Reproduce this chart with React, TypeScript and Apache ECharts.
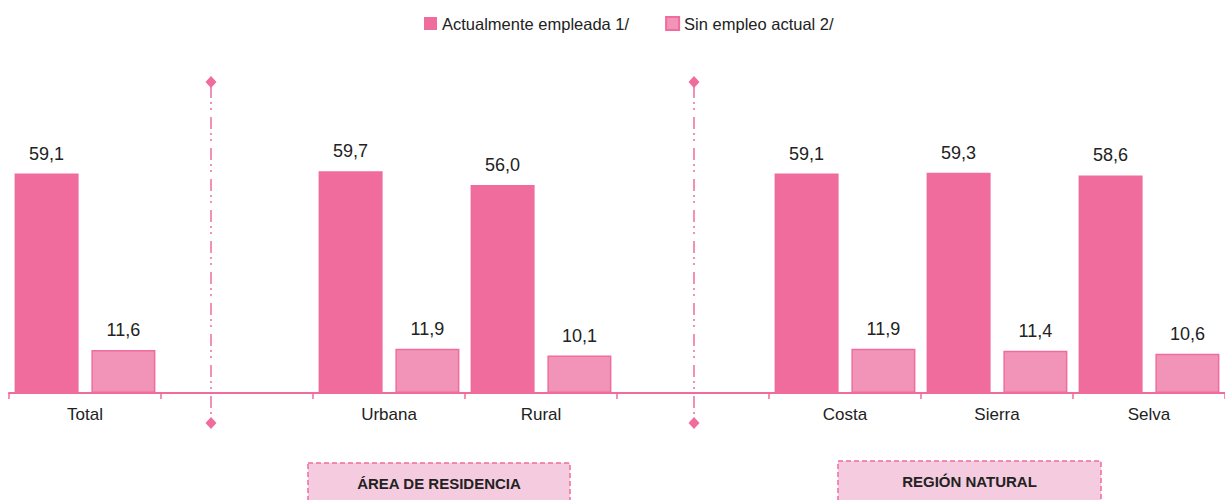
import React, { useEffect, useRef } from "react";
import * as echarts from "echarts";

const categories = ["Total", "", "Urbana", "Rural", "", "Costa", "Sierra", "Selva"];
const empleada = [59.1, null, 59.7, 56.0, null, 59.1, 59.3, 58.6];
const sinEmpleo = [11.6, null, 11.9, 10.1, null, 11.9, 11.4, 10.6];
const seriesNames = ["Actualmente empleada 1/", "Sin empleo actual 2/"];
const groupLabels = ["ÁREA DE RESIDENCIA", "REGIÓN NATURAL"];

const FONT = "'Liberation Sans Narrow', 'Arial Narrow', 'Liberation Sans', Arial, sans-serif";
const PINK = "#EF6C9D";
const PINK2 = "#F293B8";

function separator(x: number) {
  return {
    type: "group",
    children: [
      {
        type: "line",
        shape: { x1: x, y1: 86, x2: x, y2: 418 },
        style: { stroke: PINK, lineWidth: 1.5, lineDash: [12, 4, 2, 4, 2, 7] },
      },
      {
        type: "polygon",
        shape: { points: [[x, 76], [x + 5.5, 82], [x, 88], [x - 5.5, 82]] },
        style: { fill: PINK },
      },
      {
        type: "polygon",
        shape: { points: [[x, 417], [x + 5.5, 423], [x, 429], [x - 5.5, 423]] },
        style: { fill: PINK },
      },
    ],
  };
}

function groupBox(x: number, y: number, w: number, text: string) {
  return {
    type: "group",
    children: [
      {
        type: "rect",
        shape: { x, y, width: w, height: 45 },
        style: { fill: "#F5CBDF", stroke: PINK, lineWidth: 1.5, lineDash: [5, 3] },
      },
      {
        type: "text",
        x: x + w / 2,
        y: y + 20,
        style: {
          text,
          font: `bold 15px ${FONT}`,
          fill: "#222",
          align: "center",
          verticalAlign: "middle",
        },
      },
    ],
  };
}

export default function App() {
  const ref = useRef<HTMLDivElement>(null);
  useEffect(() => {
    if (!ref.current) return;
    const chart = echarts.init(ref.current, undefined, { renderer: "svg" });
    const fmt = (p: any) => (p.value == null ? "" : Number(p.value).toFixed(1).replace(".", ","));
    chart.setOption({
      animation: false,
      textStyle: { fontFamily: FONT },
      legend: {
        top: 10,
        left: 419,
        itemWidth: 13,
        itemHeight: 13,
        itemGap: 36,
        icon: "rect",
        textStyle: { fontSize: 16.5, color: "#222", fontFamily: FONT },
        data: seriesNames,
      },
      grid: { left: 9, top: 96, width: 1223, bottom: 107 },
      xAxis: {
        type: "category",
        data: categories,
        axisLine: { lineStyle: { color: PINK, width: 2 } },
        axisTick: { show: true, interval: 0, length: 6, lineStyle: { color: PINK, width: 1.5 } },
        axisLabel: { interval: 0, fontSize: 17, color: "#222", margin: 13, fontFamily: FONT },
      },
      yAxis: { type: "value", min: 0, max: 80, show: false, splitLine: { show: false } },
      series: [
        {
          name: seriesNames[0],
          type: "bar",
          data: empleada,
          barWidth: 64,
          barGap: "20%",
          itemStyle: { color: PINK },
          label: { show: true, position: "top", distance: 11, fontSize: 18, color: "#222", formatter: fmt, fontFamily: FONT },
        },
        {
          name: seriesNames[1],
          type: "bar",
          data: sinEmpleo,
          barWidth: 64,
          itemStyle: { color: PINK2, borderColor: PINK, borderWidth: 1.5 },
          label: { show: true, position: "top", distance: 11, fontSize: 18, color: "#222", formatter: fmt, fontFamily: FONT },
        },
      ],
      graphic: [
        separator(211),
        separator(694),
        groupBox(308, 463, 262, groupLabels[0]),
        groupBox(838, 461, 263, groupLabels[1]),
      ],
    });
    return () => chart.dispose();
  }, []);
  return <div ref={ref} style={{ position: "absolute", left: 0, top: 0, width: 1225, height: 500 }} />;
}
